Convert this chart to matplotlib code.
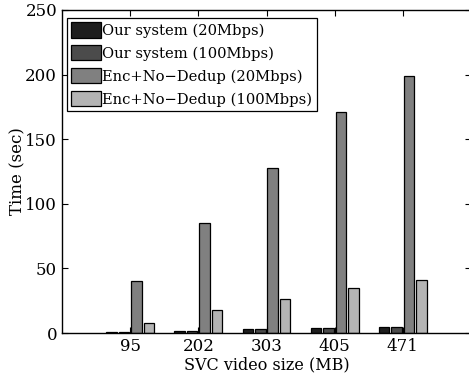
import numpy as np
import matplotlib
matplotlib.use("Agg")
from matplotlib import pyplot as plt

sizes = ["95", "202", "303", "405", "471"]
series_names = ["Our system (20Mbps)", "Our system (100Mbps)",
                "Enc+No\u2212Dedup (20Mbps)", "Enc+No\u2212Dedup (100Mbps)"]
ours_20 = [0.8, 1.8, 2.8, 4.0, 4.8]
ours_100 = [0.8, 1.8, 2.8, 4.0, 4.8]
enc_20 = [40, 85, 128, 171, 199]
enc_100 = [8, 17.5, 26, 35, 41]
colors = ["#1e1e1e", "#4b4b4b", "#808080", "#b4b4b4"]

plt.rcParams["font.family"] = ["DejaVu Serif"]
plt.rcParams["font.size"] = 11

fig = plt.figure(figsize=(4.69, 3.74), dpi=100)
ax = fig.add_axes([62 / 469, 1 - 333 / 374, (471 - 62) / 469, (333 - 10) / 374])

x = np.arange(1, len(sizes) + 1)
step = 0.183
width = 0.155
for i, (vals, name) in enumerate(zip([ours_20, ours_100, enc_20, enc_100], series_names)):
    ax.bar(x + (i - 1.5) * step, vals, width, color=colors[i], edgecolor="black",
           linewidth=0.9, label=name)

ax.set_xlim(0, 6)
ax.set_ylim(0, 250)
ax.set_xticks(x)
ax.set_xticklabels(sizes)
ax.set_yticks([0, 50, 100, 150, 200, 250])
ax.tick_params(direction="in", length=4, width=0.8, top=True, right=True, labelsize=12)
for s in ax.spines.values():
    s.set_linewidth(1.0)
ax.set_xlabel("SVC video size (MB)", fontsize=11.5, labelpad=1)
ax.set_ylabel("Time (sec)", fontsize=12, labelpad=-1)

leg = ax.legend(loc="upper left", bbox_to_anchor=(0.012, 0.975), fontsize=10.6,
                frameon=True, fancybox=False, edgecolor="black", framealpha=1,
                borderpad=0.3, handlelength=2.0, handleheight=1.2,
                handletextpad=0.1, labelspacing=0.5, borderaxespad=0)
leg.get_frame().set_linewidth(0.9)

fig.savefig("out.png", dpi=100)
